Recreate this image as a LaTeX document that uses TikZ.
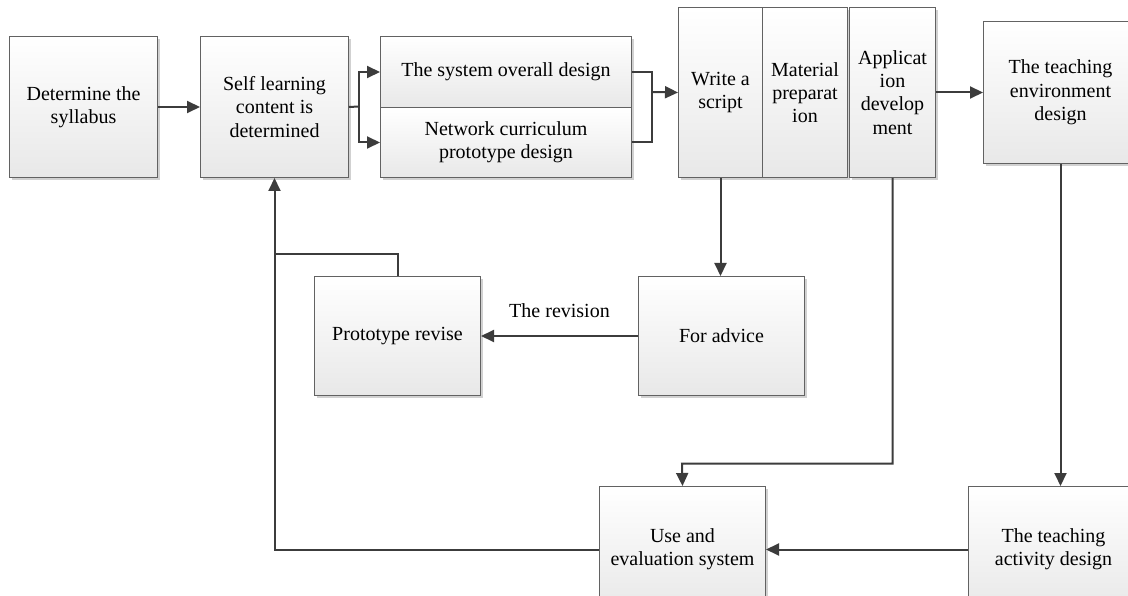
\documentclass[tikz,border=0pt]{standalone}
\usepackage{fontspec}
\setmainfont{Liberation Serif}
\usetikzlibrary{arrows.meta,shadows,calc}
\definecolor{edge}{HTML}{626262}
\definecolor{wire}{HTML}{3C3C3C}
\definecolor{shade}{HTML}{E8E8E8}
\tikzset{
  stepbox/.style={draw=edge, line width=1pt, top color=white, bottom color=shade,
    align=center, inner sep=0pt, anchor=north west,
    font=\fontsize{20}{23.3}\selectfont, text=black,
    drop shadow={shadow xshift=2.5pt, shadow yshift=-2.5pt, fill=black, opacity=0.18}},
  wirearrow/.style={draw=wire, line width=2pt, -{Triangle[length=13pt,width=12pt]}},
  wireline/.style={draw=wire, line width=2pt},
}
\begin{document}
\begin{tikzpicture}[x=1pt,y=-1pt]
\useasboundingbox (0,0) rectangle (1128,596);
\clip (0,0) rectangle (1128,596);

% top row
\node[stepbox, minimum width=148, minimum height=141] (det) at (9,36) {Determine the\\syllabus};
\node[stepbox, minimum width=148, minimum height=141] (self) at (200,36) {Self learning\\content is\\determined};
\node[stepbox, minimum width=251, minimum height=71] (sys) at (380,36) {The system overall design};
\node[stepbox, minimum width=251, minimum height=70] (net) at (380,107) {Network curriculum\\prototype design};
\node[stepbox, minimum width=84, minimum height=170] (script) at (678,7) {Write a\\script};
\node[stepbox, minimum width=85, minimum height=170] (mat) at (762,7) {Material\\preparat\\ion};
\node[stepbox, minimum width=86, minimum height=170] (app) at (849,7) {Applicat\\ion\\develop\\ment};
\node[stepbox, minimum width=154, minimum height=142] (env) at (983,21) {The teaching\\environment\\design};

% middle row
\node[stepbox, minimum width=166, minimum height=119] (proto) at (314,276) {Prototype revise};
\node[stepbox, minimum width=166, minimum height=119] (adv) at (638,276) {For advice};

% bottom row
\node[stepbox, minimum width=166, minimum height=126] (use) at (599,486) {Use and\\evaluation system};
\node[stepbox, minimum width=170, minimum height=126] (act) at (968,486) {The teaching\\activity design};

% junction points
\coordinate (split) at (359,106.5);
\coordinate (merge) at (652,92);
\coordinate (loopin) at (274,254);
\coordinate (ubend) at (682,463.5);

% connectors
\draw[wirearrow] (det.east) -- (self.west);
\draw[wireline] (self.east) -- (split);
\draw[wirearrow] (split) |- (sys.west);
\draw[wirearrow] (split) |- (net.west);
\draw[wireline] (sys.east) -| (merge) |- (net.east);
\draw[wirearrow] (merge) -- (script.west);
\draw[wirearrow] (script.south) -- (script.south |- adv.north);
\draw[wirearrow] (adv.west) -- node[above=14pt, font=\fontsize{20}{23.3}\selectfont] (revlbl) {The revision} (proto.east);
\draw[wireline] (proto.north) |- (loopin);
\draw[wirearrow] (use.west) -| (self.south);
\draw[wirearrow] (app.east) -- (env.west |- app.east);
\draw[wirearrow] (app.south) |- (ubend) -- (use.north);
\draw[wirearrow] (env.south) -- (env.south |- act.north);
\draw[wirearrow] (act.west |- use.west) -- (use.east);
\end{tikzpicture}
\end{document}
